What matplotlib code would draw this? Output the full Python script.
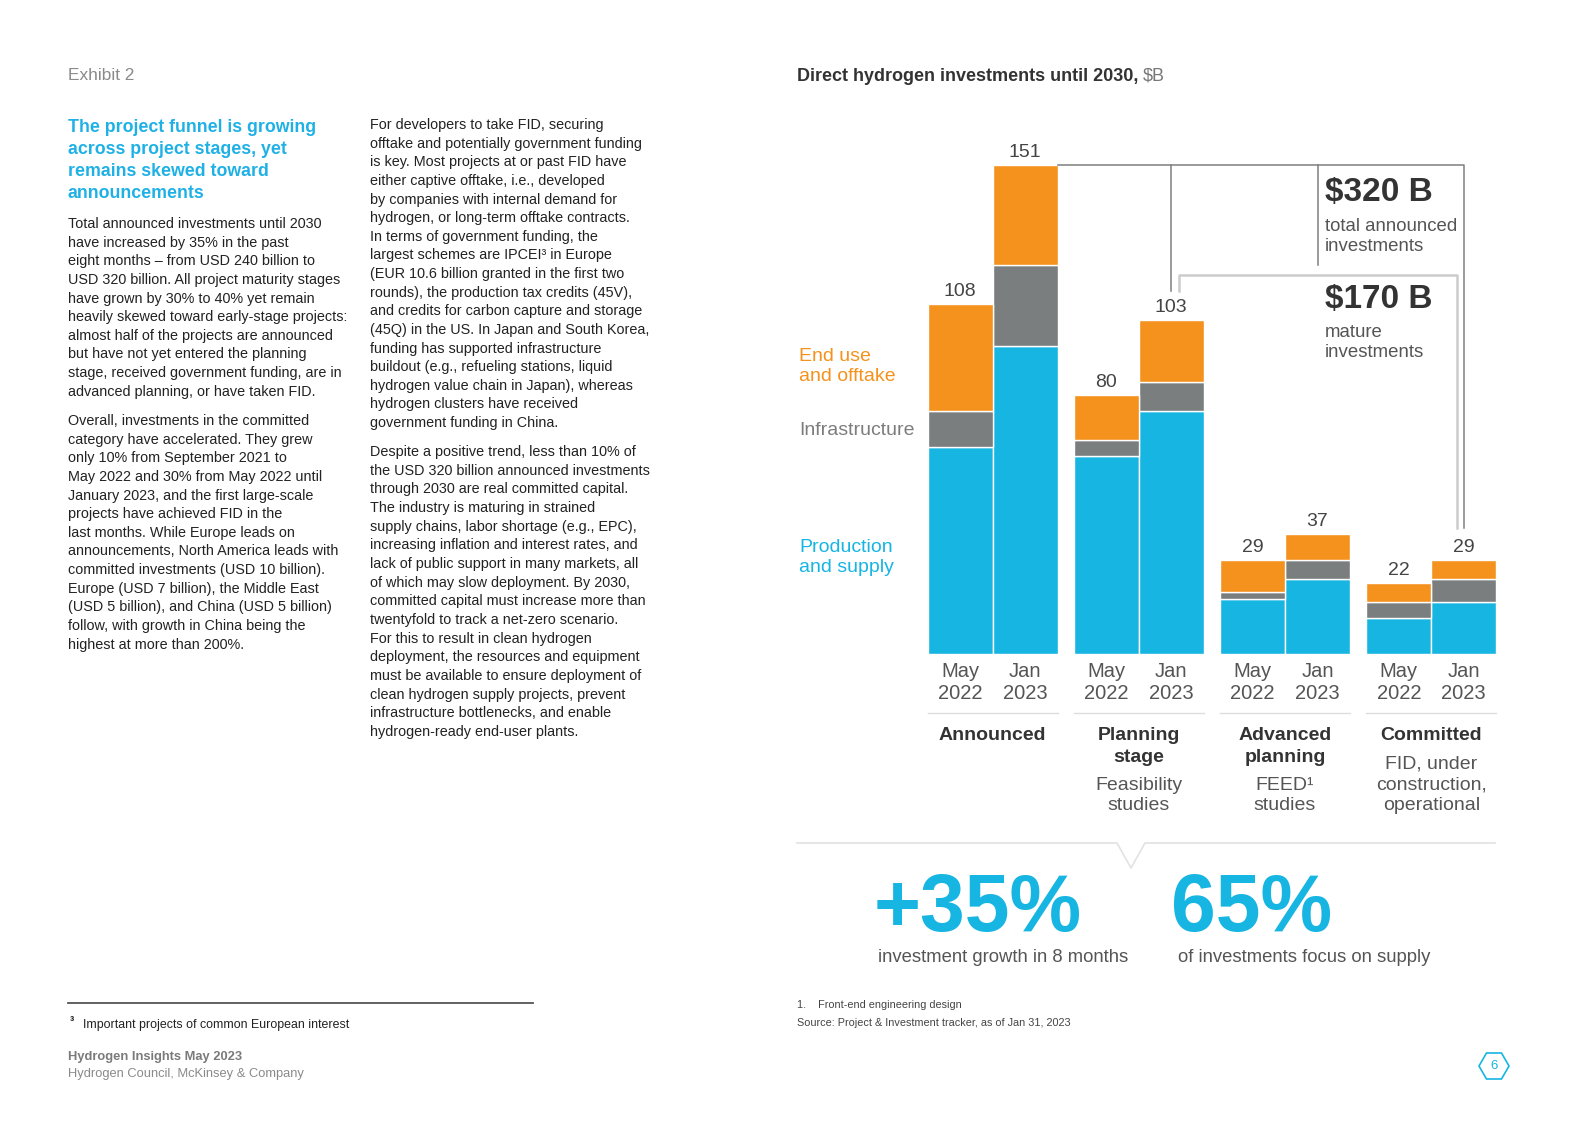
import matplotlib
matplotlib.use("Agg")
import matplotlib.pyplot as plt
from matplotlib.patches import RegularPolygon
import numpy as np

plt.rcParams['font.family'] = ['Liberation Sans', 'DejaVu Sans']

# --- data -------------------------------------------------------------
stages = ['Announced', 'Planning\nstage', 'Advanced\nplanning', 'Committed']
stage_notes = ['', 'Feasibility\nstudies', 'FEED\u00b9\nstudies', 'FID, under\nconstruction,\noperational']
periods = ['May\n2022', 'Jan\n2023']

# $B per stage, [May 2022, Jan 2023]
production = [[64, 95], [61, 75], [17, 23], [11, 16]]
infrastructure = [[11, 25], [5, 9], [2, 6], [5, 7]]
end_use = [[33, 31], [14, 19], [10, 8], [6, 6]]
totals = [[108, 151], [80, 103], [29, 37], [22, 29]]

c_blue = '#17b5e2'
c_gray = '#7a7e7f'
c_orange = '#f5921e'
c_title = '#1fb1e6'
c_text = '#222222'
c_dark = '#333333'
c_mid = '#555555'

W, H = 1587, 1122
fig = plt.figure(figsize=(W / 100, H / 100), dpi=100)

# page background axes in pixel coordinates
bg = fig.add_axes([0, 0, 1, 1])
bg.set_xlim(0, W)
bg.set_ylim(H, 0)
bg.axis('off')


def lines(x, y0, items, dy, **kw):
    for i, s in enumerate(items):
        bg.text(x, y0 + i * dy, s, va='center', **kw)


# --- left page text ---------------------------------------------------
bg.text(68, 75, 'Exhibit 2', fontsize=12.4, color='#8a8a8a', va='center')
lines(68, 127, ['The project funnel is growing', 'across project stages, yet',
                'remains skewed toward', 'announcements'], 22.2,
      fontsize=12.8, color=c_title, fontweight='bold')

para1 = ['Total announced investments until 2030',
         'have increased by 35% in the past',
         'eight months \u2013 from USD 240 billion to',
         'USD 320 billion. All project maturity stages',
         'have grown by 30% to 40% yet remain',
         'heavily skewed toward early-stage projects:',
         'almost half of the projects are announced',
         'but have not yet entered the planning',
         'stage, received government funding, are in',
         'advanced planning, or have taken FID.']
para2 = ['Overall, investments in the committed',
         'category have accelerated. They grew',
         'only 10% from September 2021 to',
         'May 2022 and 30% from May 2022 until',
         'January 2023, and the first large-scale',
         'projects have achieved FID in the',
         'last months. While Europe leads on',
         'announcements, North America leads with',
         'committed investments (USD 10 billion).',
         'Europe (USD 7 billion), the Middle East',
         '(USD 5 billion), and China (USD 5 billion)',
         'follow, with growth in China being the',
         'highest at more than 200%.']
para3 = ['For developers to take FID, securing',
         'offtake and potentially government funding',
         'is key. Most projects at or past FID have',
         'either captive offtake, i.e., developed',
         'by companies with internal demand for',
         'hydrogen, or long-term offtake contracts.',
         'In terms of government funding, the',
         'largest schemes are IPCEI\u00b3 in Europe',
         '(EUR 10.6 billion granted in the first two',
         'rounds), the production tax credits (45V),',
         'and credits for carbon capture and storage',
         '(45Q) in the US. In Japan and South Korea,',
         'funding has supported infrastructure',
         'buildout (e.g., refueling stations, liquid',
         'hydrogen value chain in Japan), whereas',
         'hydrogen clusters have received',
         'government funding in China.']
para4 = ['Despite a positive trend, less than 10% of',
         'the USD 320 billion announced investments',
         'through 2030 are real committed capital.',
         'The industry is maturing in strained',
         'supply chains, labor shortage (e.g., EPC),',
         'increasing inflation and interest rates, and',
         'lack of public support in many markets, all',
         'of which may slow deployment. By 2030,',
         'committed capital must increase more than',
         'twentyfold to track a net-zero scenario.',
         'For this to result in clean hydrogen',
         'deployment, the resources and equipment',
         'must be available to ensure deployment of',
         'clean hydrogen supply projects, prevent',
         'infrastructure bottlenecks, and enable',
         'hydrogen-ready end-user plants.']
body = dict(fontsize=10.4, color=c_text)
lines(68, 224, para1, 18.63, **body)
lines(68, 421, para2, 18.63, **body)
lines(370, 125, para3, 18.63, **body)
lines(370, 452, para4, 18.66, **body)

bg.plot([68, 533], [1003, 1003], color='#555555', lw=1.3)
bg.text(70, 1022, '\u00b3', fontsize=9, color=c_text, va='center', fontweight='bold')
bg.text(83, 1025, 'Important projects of common European interest',
        fontsize=8.9, color=c_text, va='center')
bg.text(68, 1057, 'Hydrogen Insights May 2023', fontsize=9.3,
        color='#7a7a7a', fontweight='bold', va='center')
bg.text(68, 1074, 'Hydrogen Council, McKinsey & Company', fontsize=9.3,
        color='#8a8a8a', va='center')

# --- right page: chart ------------------------------------------------
t1 = bg.text(797, 76, 'Direct hydrogen investments until 2030,', fontsize=13,
             color=c_dark, fontweight='bold', va='center')
fig.canvas.draw()
bb = t1.get_window_extent()
bg.text(797 + bb.width + 4, 76, '$B', fontsize=13, color='#777777', va='center')

lines(799, 356, ['End use', 'and offtake'], 20.5, fontsize=14, color=c_orange)
bg.text(799, 430, 'Infrastructure', fontsize=14, color='#7d7d7d', va='center')
lines(799, 547, ['Production', 'and supply'], 20.5, fontsize=14, color=c_blue)

# chart axes: baseline at 654 px, 3.24 px per $B, 65 px per bar slot
base_px, top_px, unit_px = 654, 104, 3.24
left_px, right_px, x0_px, slot_px = 780, 1510, 960, 65
ax = fig.add_axes([left_px / W, (H - base_px) / H,
                   (right_px - left_px) / W, (base_px - top_px) / H])
ax.patch.set_alpha(0)
ax.set_xlim((left_px - x0_px) / slot_px, (right_px - x0_px) / slot_px)
ax.set_ylim(0, (base_px - top_px) / unit_px)
for s in ax.spines.values():
    s.set_visible(False)
ax.set_yticks([])


def val(ypx):
    return (base_px - ypx) / unit_px


group_step = 2.25
pos = np.array([[g * group_step + b for b in range(2)] for g in range(len(stages))])
prod = np.array(production)
infra = np.array(infrastructure)
end = np.array(end_use)
tot = np.array(totals)

px, pp, pi_, pe = pos.ravel(), prod.ravel(), infra.ravel(), end.ravel()
kw = dict(width=1.0, edgecolor='white', linewidth=1.0)
ax.bar(px, pp, color=c_blue, **kw)
ax.bar(px, pi_, bottom=pp, color=c_gray, **kw)
ax.bar(px, pe, bottom=pp + pi_, color=c_orange, **kw)

for x, t in zip(px, tot.ravel()):
    ax.annotate(str(t), (x, t), xytext=(0, 3), textcoords='offset points',
                ha='center', va='bottom', fontsize=14, color='#444444')

ax.set_xticks(px)
ax.set_xticklabels(periods * len(stages), fontsize=14.5, color=c_mid,
                   linespacing=1.15)
ax.tick_params(axis='x', length=0, pad=6)

for g, (name, note) in enumerate(zip(stages, stage_notes)):
    xl, xr = pos[g, 0] - 0.5, pos[g, 1] + 0.5
    xc = (xl + xr) / 2
    ax.plot([xl, xr], [val(713), val(713)], color='#dddddd', lw=1.0, clip_on=False)
    nl = name.split('\n')
    for i, s in enumerate(nl):
        ax.text(xc, val(736 + i * 21), s, ha='center', va='center',
                fontsize=14, fontweight='bold', color=c_dark)
    ny = 785 if len(nl) > 1 else 764
    for i, s in enumerate(note.split('\n') if note else []):
        ax.text(xc, val(ny + i * 21), s, ha='center', va='center',
                fontsize=14, color=c_mid)

# brackets: total announced (outer) and mature (inner)
xa = pos[0, 1] + 0.5
xp, xad, xc_ = pos[1, 1], pos[2, 1], pos[3, 1]
ytop = tot[0, 1]
ax.plot([xa, xc_, xc_], [ytop, ytop, tot[3, 1] + 10], color='#7f7f7f', lw=1.1,
        clip_on=False)
ax.plot([xp, xp], [ytop, tot[1, 1] + 9], color='#7f7f7f', lw=1.1)
ax.plot([xad, xad], [ytop, val(265)], color='#7f7f7f', lw=1.1)
ax.plot([xp + 0.12, xp + 0.12, xc_ - 0.1, xc_ - 0.1],
        [tot[1, 1] + 9, val(275), val(275), tot[3, 1] + 10],
        color='#cccccc', lw=1.8)

bg.text(1325, 192, '$320 B', fontsize=24, fontweight='bold', color=c_dark, va='center')
lines(1325, 226, ['total announced', 'investments'], 20, fontsize=13.4, color=c_mid)
bg.text(1325, 299, '$170 B', fontsize=24, fontweight='bold', color=c_dark, va='center')
lines(1325, 332, ['mature', 'investments'], 20, fontsize=13.4, color=c_mid)

# bottom summary
bg.plot([797, 1117, 1131, 1145, 1495], [843, 843, 868, 843, 843],
        color='#e2e2e2', lw=1.2)
bg.text(978, 910, '+35%', fontsize=58, fontweight='bold', color=c_blue,
        ha='center', va='center')
bg.text(1252, 910, '65%', fontsize=58, fontweight='bold', color=c_blue,
        ha='center', va='center')
bg.text(1003, 957, 'investment growth in 8 months', fontsize=13.3,
        color=c_mid, ha='center', va='center')
bg.text(1304, 957, 'of investments focus on supply', fontsize=13.3,
        color=c_mid, ha='center', va='center')

bg.text(797, 1005, '1.    Front-end engineering design', fontsize=7.8,
        color='#444444', va='center')
bg.text(797, 1023, 'Source: Project & Investment tracker, as of Jan 31, 2023',
        fontsize=7.8, color='#444444', va='center')

bg.add_patch(RegularPolygon((1494, 1066), 6, radius=15, orientation=np.pi / 6,
                            fill=False, edgecolor=c_blue, lw=1.2))
bg.text(1494, 1066, '6', fontsize=9.5, color=c_blue, ha='center', va='center')

fig.savefig('out.png', dpi=100)
